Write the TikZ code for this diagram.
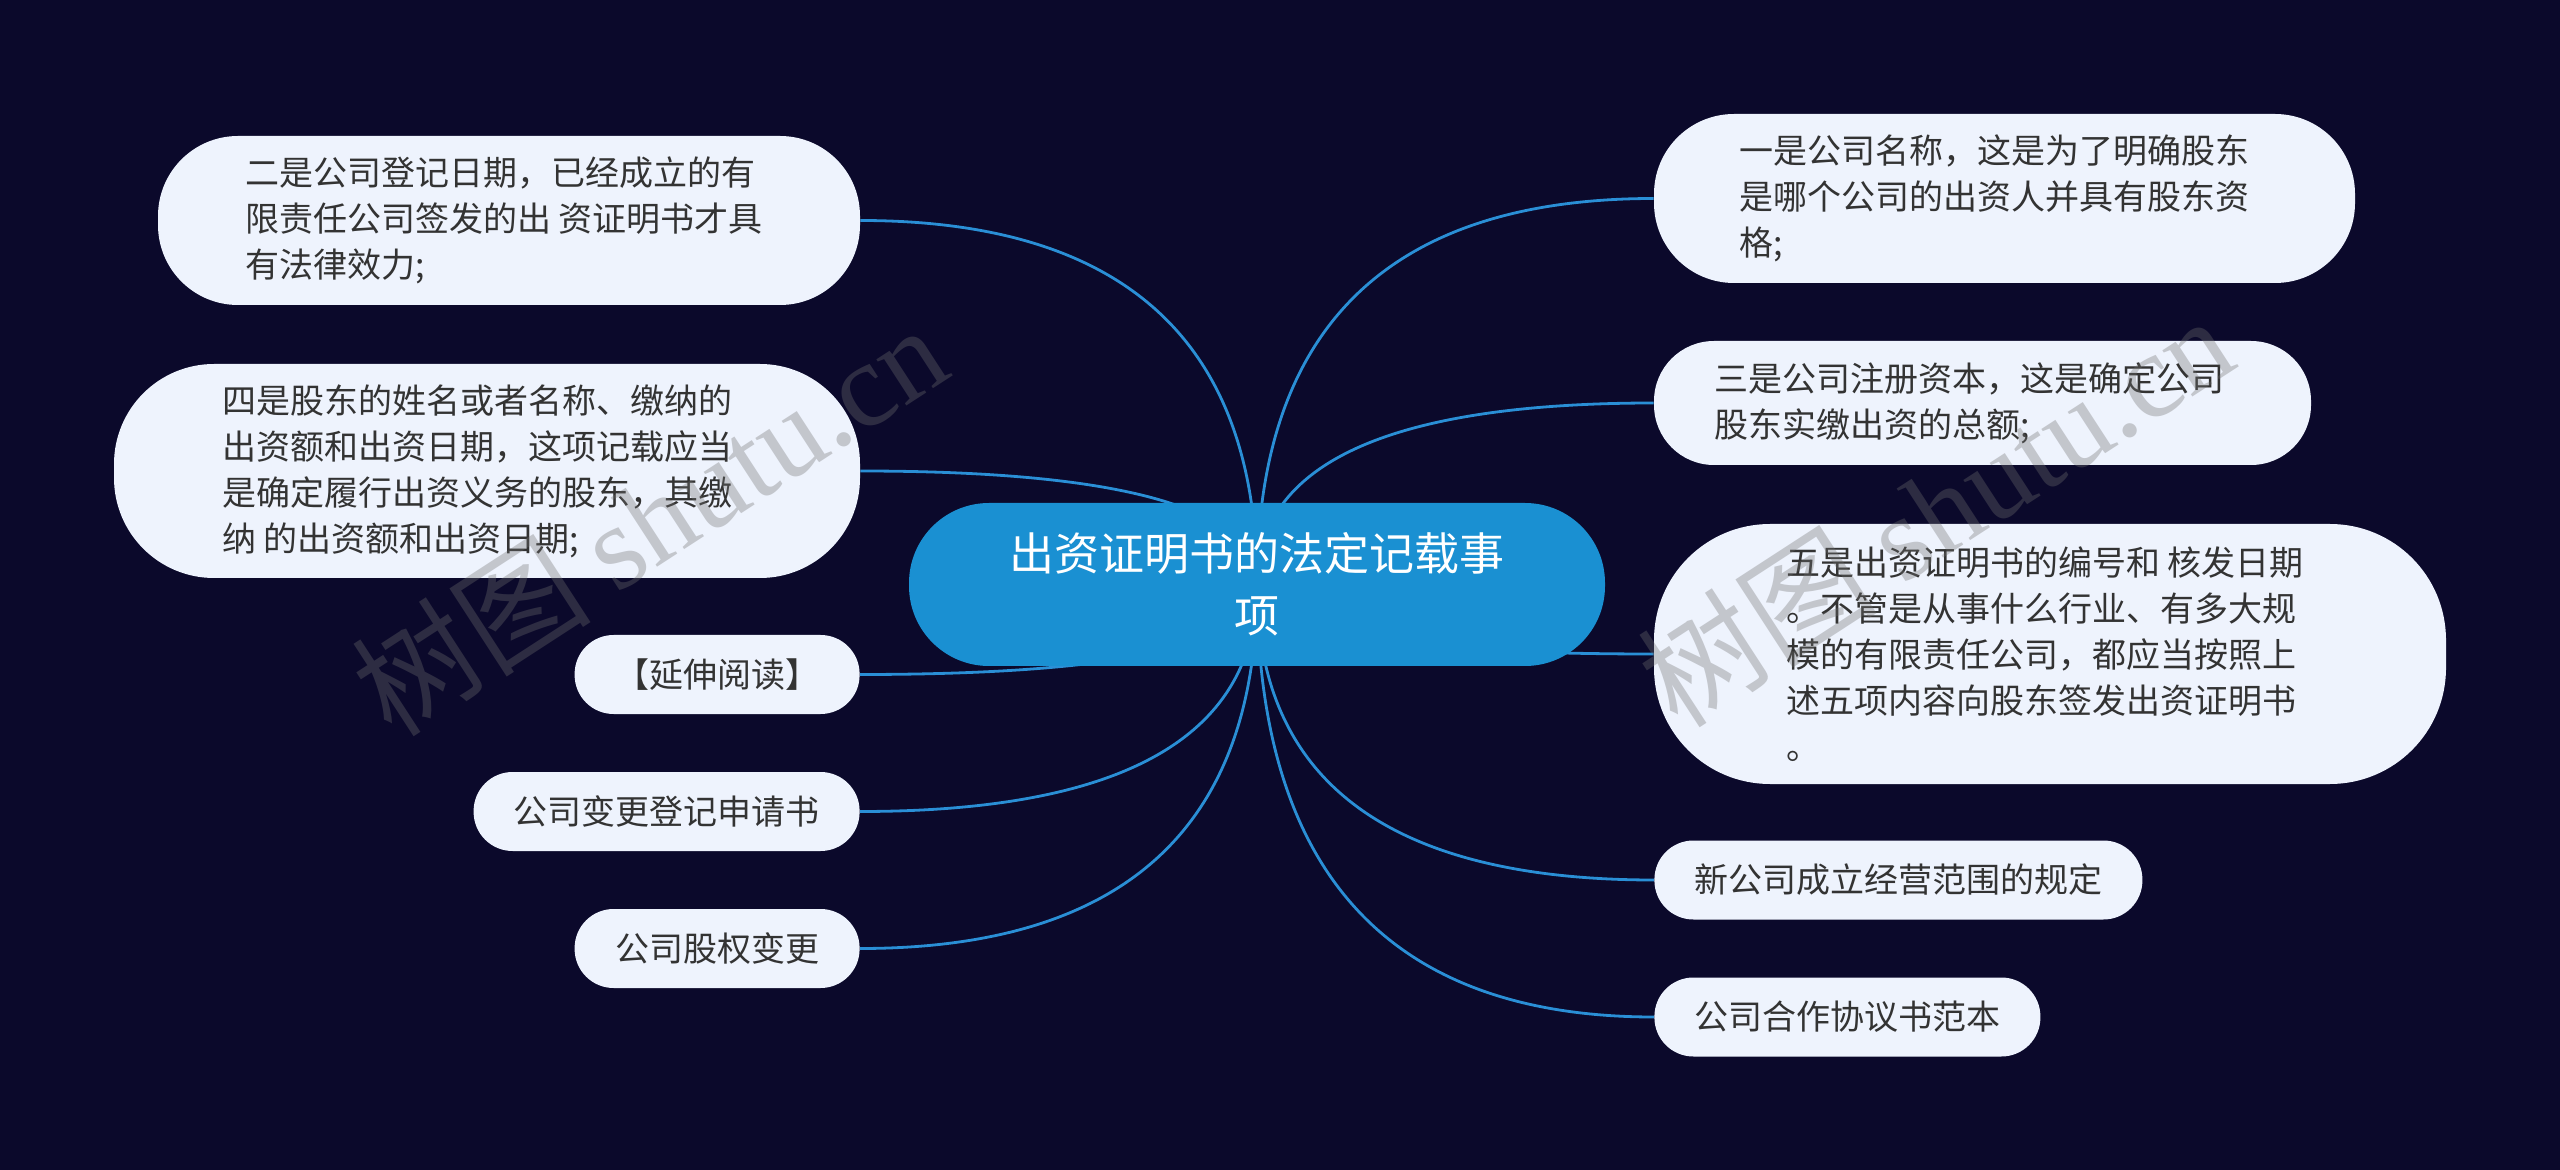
\documentclass[tikz,border=0pt]{standalone}
\usepackage{fontspec}
\setmainfont{Noto Sans CJK SC}
\newfontfamily\wmserif{Liberation Serif}
\usetikzlibrary{calc,backgrounds}
\definecolor{bgc}{HTML}{0B092B}
\definecolor{mainc}{HTML}{1A90D2}
\definecolor{leafc}{HTML}{EEF3FD}
\definecolor{txtc}{HTML}{333333}
\definecolor{linec}{HTML}{2A8FD6}
\definecolor{wmc}{HTML}{707070}
\newcommand\mmconn[2]{%
  \coordinate (p#1) at (c.center |- #1.#2);
  \draw[link] (c.center) .. controls ($(c.center)!0.6667!(p#1)$) and ($(#1.#2)!0.6667!(p#1)$) .. (#1.#2);}
\newcommand\padr[1]{\rule{#1}{0pt}}
\begin{document}
\begin{tikzpicture}[x=0.5pt,y=-0.5pt,
  leaf/.style={fill=leafc, text=txtc, font=\fontsize{17}{23}\selectfont, align=left, inner sep=0pt},
  single/.style={leaf, minimum height=39.5pt, rounded corners=19.5pt},
  hub/.style={fill=mainc, text=white, font=\fontsize{22.5}{31}\selectfont, align=center, inner sep=0pt,
    minimum width=348pt, minimum height=81.5pt, rounded corners=40pt},
  link/.style={draw=linec, line width=1.4pt},
  wm/.style={text=wmc, opacity=0.34, rotate=33, inner sep=0pt}]
\begin{scope}[on background layer]
  \fill[bgc] (0,0) rectangle (2560,1170);
\end{scope}
\useasboundingbox (0,0) rectangle (2560,1170);

\node[hub] (c) at (1257,584.5) {出资证明书的法定记载事\\项};

% left
\node[leaf, minimum width=351pt, minimum height=84.5pt, rounded corners=40pt] (l1) at (509,220.5)
  {二是公司登记日期，已经成立的有\padr{9pt}\\限责任公司签发的出 资证明书才具\\有法律效力;};
\node[leaf, minimum width=373pt, minimum height=107pt, rounded corners=50pt] (l2) at (487,471)
  {四是股东的姓名或者名称、缴纳的\padr{10pt}\\出资额和出资日期，这项记载应当\\是确定履行出资义务的股东，其缴\\纳 的出资额和出资日期;};
\node[single, minimum width=142.5pt, anchor=east] (l3) at (860,674.5) {【延伸阅读】};
\node[single, minimum width=193pt, anchor=east] (l4) at (860,811.5) {公司变更登记申请书};
\node[single, minimum width=142.5pt, anchor=east] (l5) at (860,948.5) {公司股权变更};

% right
\node[leaf, minimum width=350.5pt, minimum height=84.5pt, rounded corners=40pt] (r1) at (2004.5,198.5)
  {一是公司名称，这是为了明确股东\padr{10pt}\\是哪个公司的出资人并具有股东资\\格;};
\node[leaf, minimum width=328.5pt, minimum height=62pt, rounded corners=30pt] (r2) at (1982.5,403)
  {三是公司注册资本，这是确定公司\padr{13pt}\\股东实缴出资的总额;};
\node[leaf, minimum width=396pt, minimum height=130pt, rounded corners=58pt] (r3) at (2050,654)
  {五是出资证明书的编号和 核发日期\padr{5pt}\\。不管是从事什么行业、有多大规\\模的有限责任公司，都应当按照上\\述五项内容向股东签发出资证明书\\。};
\node[single, minimum width=244pt, anchor=west] (r4) at (1654,880) {新公司成立经营范围的规定};
\node[single, minimum width=193pt, anchor=west] (r5) at (1654,1017) {公司合作协议书范本};

\begin{scope}[on background layer]
  \mmconn{l1}{east}
  \mmconn{l2}{east}
  \mmconn{l3}{east}
  \mmconn{l4}{east}
  \mmconn{l5}{east}
  \mmconn{r1}{west}
  \mmconn{r2}{west}
  \mmconn{r3}{west}
  \mmconn{r4}{west}
  \mmconn{r5}{west}
\end{scope}

% watermarks
\node[wm, font=\fontsize{60}{60}\selectfont] (w1) at (649,519) {树图 {\wmserif shutu.cn}};
\node[wm, font=\fontsize{60}{60}\selectfont] (w2) at (1935,510) {树图 {\wmserif shutu.cn}};
\end{tikzpicture}
\end{document}
